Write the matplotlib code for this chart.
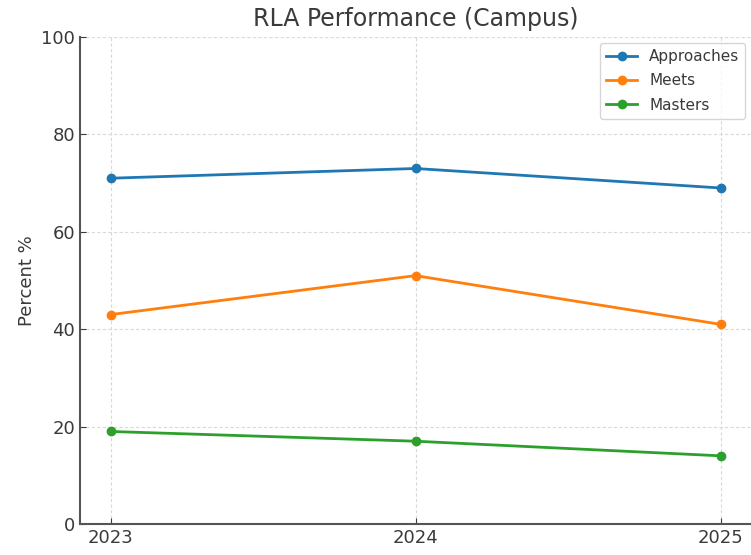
import matplotlib
matplotlib.use("Agg")
import matplotlib.pyplot as plt

years = ["2023", "2024", "2025"]
approaches = [71, 73, 69]
meets = [43, 51, 41]
masters = [19, 17, 14]

fig = plt.figure(figsize=(7.51, 5.55), dpi=100)
ax = fig.add_axes([80/751, 1-524/555, 671/751, (524-37)/555])

x = list(range(len(years)))
ax.plot(x, approaches, marker="o", color="#1f77b4", lw=2, ms=6, label="Approaches")
ax.plot(x, meets, marker="o", color="#ff7f0e", lw=2, ms=6, label="Meets")
ax.plot(x, masters, marker="o", color="#2ca02c", lw=2, ms=6, label="Masters")

ax.set_xticks(x)
ax.set_xticklabels(years)
ax.set_ylim(0, 100)
ax.set_xlim(-0.1, 2.1)
ax.set_yticks([0, 20, 40, 60, 80, 100])
ax.set_title("RLA Performance (Campus)", fontsize=17, color="#3a3a3a", pad=8)
ax.set_ylabel("Percent %", fontsize=13, color="#3a3a3a")
ax.tick_params(labelsize=13, colors="#3a3a3a", length=4, direction="in")
ax.grid(True, linestyle=(0, (3, 2)), color="#d9d9d9", linewidth=0.8)
for s in ["top", "right"]:
    ax.spines[s].set_visible(False)
for s in ["left", "bottom"]:
    ax.spines[s].set_color("#555555")
    ax.spines[s].set_linewidth(1.5)
leg = ax.legend(loc="upper right", fontsize=11, frameon=True,
                bbox_to_anchor=(1.003, 1.003), labelspacing=0.6,
                edgecolor="#cccccc")
for t in leg.get_texts():
    t.set_color("#3a3a3a")

fig.savefig("out.png", dpi=100)
